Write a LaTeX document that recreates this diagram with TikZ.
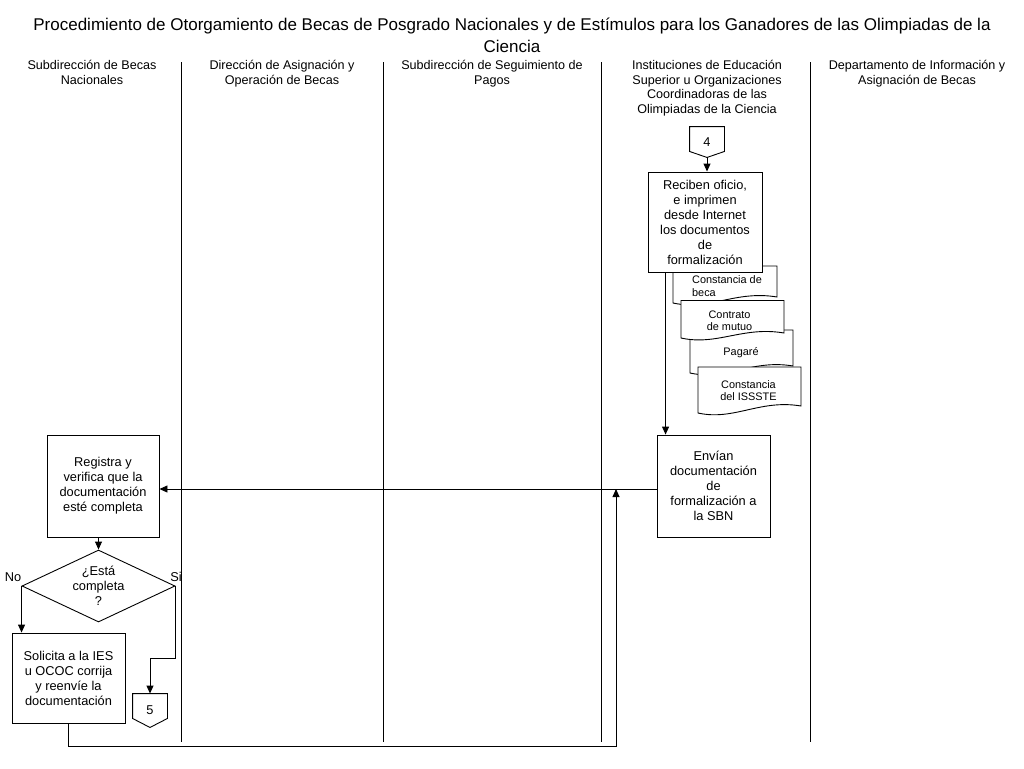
\documentclass[tikz,border=0pt]{standalone}
\usepackage{fontspec}
\setmainfont{Liberation Sans}
\usetikzlibrary{arrows.meta,shapes.geometric}
\newcommand\bodyf{\fontsize{12.8}{15}\selectfont}
\newcommand\headf{\fontsize{12.6}{14.6}\selectfont}
\newcommand\docf{\fontsize{10.9}{12.5}\selectfont}
\newcommand\titlef{\fontsize{17}{22}\selectfont}
% document symbol: x0, top, x1, left-bottom, right-bottom
\newcommand\docshape[5]{%
  \filldraw[fill=white] (#1,#2) -- (#3,#2) -- (#3,#5)
    .. controls ({#1+0.6*(#3-#1)},#5-7) and ({#1+0.35*(#3-#1)},#4+8) .. (#1,#4) -- cycle;}
\begin{document}
\begin{tikzpicture}[x=1pt,y=-1pt,line width=0.9pt,
  box/.style={draw,fill=white,align=center,font=\bodyf,inner sep=1pt},
  hdr/.style={align=center,font=\headf,anchor=north,inner sep=0pt},
  doctext/.style={font=\docf,align=center,inner sep=0pt},
  offp/.style={minimum width=34pt,inner sep=0pt,font=\bodyf},
  arr/.style={-{Triangle[length=8pt,width=7pt]}},
  lane/.style={line width=0.8pt}]
\useasboundingbox (0,0) rectangle (1024,768);

% title
\node[font=\titlef,align=center] (title) at (512,35)
  {Procedimiento de Otorgamiento de Becas de Posgrado Nacionales y de Estímulos para los Ganadores de las Olimpiadas de la\\Ciencia};

% lane headers
\node[hdr] (h1) at (92,60) {Subdirección de Becas\\Nacionales};
\node[hdr] (h2) at (282,60) {Dirección de Asignación y\\Operación de Becas};
\node[hdr] (h3) at (492,60) {Subdirección de Seguimiento de\\Pagos};
\node[hdr] (h4) at (707,60) {Instituciones de Educación\\Superior u Organizaciones\\Coordinadoras de las\\Olimpiadas de la Ciencia};
\node[hdr] (h5) at (917,60) {Departamento de Información y\\Asignación de Becas};

% lane separators
\foreach \x in {181,383,601,810} \draw[lane] (\x,62) -- (\x,742);

% documents (stacked)
\docshape{673}{266}{777}{303}{297}
\node[doctext,align=left] (d1) at (727,286) {Constancia de\\beca};
\docshape{690}{330}{793}{373}{366}
\node[doctext] (d3) at (741,353) {Pagaré};
\docshape{681}{300.5}{784}{338}{333}
\node[doctext] (d2) at (729.5,320.5) {Contrato\\de mutuo};
\docshape{698}{367}{801}{413}{406}
\node[doctext] (d4) at (748.5,390.5) {Constancia\\del ISSSTE};

% process boxes
\node[box,minimum width=114pt,minimum height=100pt] (rec) at (705,222)
  {Reciben oficio,\\e imprimen\\desde Internet\\los documentos\\de\\formalización};
\node[box,minimum width=113pt,minimum height=102pt] (env) at (713.5,486)
  {Envían\\documentación\\de\\formalización a\\la SBN};
\node[box,minimum width=112pt,minimum height=102pt] (reg) at (103,486)
  {Registra y\\verifica que la\\documentación\\esté completa};
\node[draw,diamond,aspect=2.1,inner sep=0pt,minimum width=153pt,minimum height=72pt,
  align=center,font=\bodyf] (dec) at (98.5,586) {¿Está\\completa\\?};
\node[box,minimum width=113pt,minimum height=90pt] (sol) at (68.5,678)
  {Solicita a la IES\\u OCOC corrija\\y reenvíe la\\documentación};

% off-page connectors
\node[offp,minimum height=30pt] (c4) at (707,142) {4};
\draw (c4.north west) -- (c4.north east) -- ([yshift=6pt]c4.south east) -- (c4.south)
  -- ([yshift=6pt]c4.south west) -- cycle;
\node[offp,minimum height=33pt] (c5) at (150,710.5) {5};
\draw (c5.north west) -- (c5.north east) -- ([yshift=9pt]c5.south east) -- (c5.south)
  -- ([yshift=9pt]c5.south west) -- cycle;

% labels
\node[font=\bodyf,inner sep=0pt] (no) at (13,577) {No};
\node[font=\bodyf,inner sep=0pt] (si) at (176,577) {Si};

% connectors
\coordinate (j) at (616,489);
\coordinate (lb) at (616,746);
\draw[arr] (c4.south) -- (c4.south |- rec.north);
\draw[arr] ([xshift=9pt]env.north west |- rec.south) -- ([xshift=9pt]env.north west);
\draw[arr] (env.west |- j) -- (reg.east |- j);
\draw[arr] (dec.north |- reg.south) -- (dec.north);
\draw[arr] (dec.west) -- (dec.west |- sol.north);
\draw[arr] (dec.east) -- ++(0,72) -| (c5.north);
\draw[arr] (sol.south) |- (lb) -- (j);
\end{tikzpicture}
\end{document}
